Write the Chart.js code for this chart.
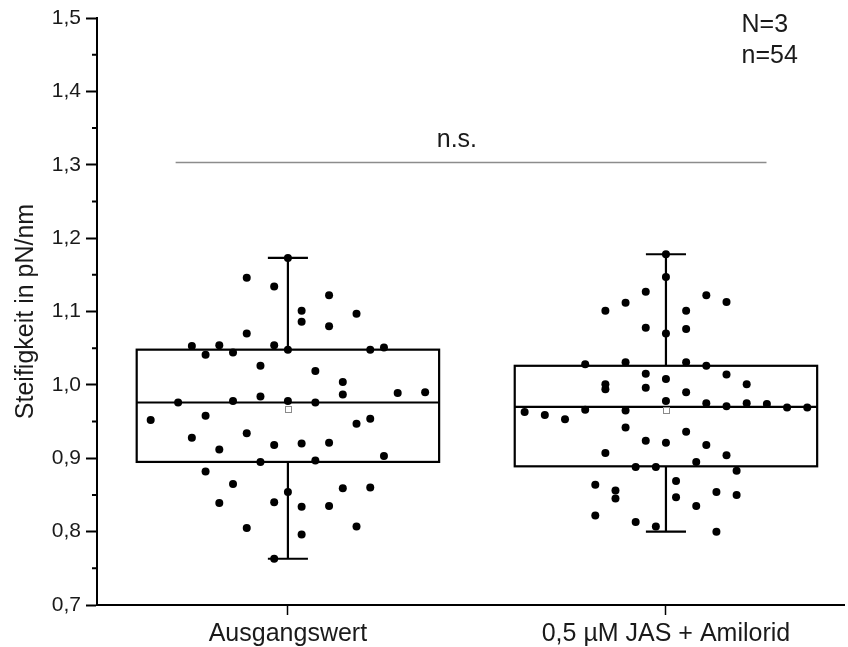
<!DOCTYPE html>
<html lang="de">
<head>
<meta charset="utf-8">
<title>Steifigkeit</title>
<script src="https://cdn.jsdelivr.net/npm/chart.js@4.4.1/dist/chart.umd.min.js"></script>
<style>
  html, body { margin: 0; padding: 0; background: #fff; }
  canvas { display: block; }
</style>
</head>
<body>
<canvas id="grafik" width="848" height="647"></canvas>
<script>
/* ============ Steifigkeit — Boxplot mit Einzelwerten ============ */

const kategorien = ['Ausgangswert', '0,5 µM JAS + Amilorid'];
const yTicks = [0.7, 0.8, 0.9, 1.0, 1.1, 1.2, 1.3, 1.4, 1.5];

// Boxplot-Kennwerte pro Gruppe
const q1 = [0.895, 0.889];
const median = [0.976, 0.970];
const q3 = [1.048, 1.026];
const whiskerUnten = [0.763, 0.800];
const whiskerOben = [1.173, 1.178];
const mittelwert = [0.967, 0.966];

// Einzelwerte in pN/nm, dazu die Spalte im Streudiagramm (versetzt um die Kategorie)
const werteAusgang = [1.173, 1.146, 1.134, 1.122, 1.101, 1.097, 1.086, 1.080, 1.070, 1.053,
  1.054, 1.054, 1.041, 1.044, 1.048, 1.048, 1.051, 1.026, 1.019, 1.004,
  0.987, 0.989, 0.990, 0.984, 0.976, 0.978, 0.978, 0.976, 0.952, 0.958,
  0.947, 0.954, 0.928, 0.934, 0.912, 0.918, 0.920, 0.921, 0.903, 0.895,
  0.897, 0.882, 0.865, 0.854, 0.859, 0.860, 0.839, 0.840, 0.834, 0.835,
  0.805, 0.807, 0.796, 0.763];
const spalteAusgang = [0, -3, -1, 3, 1, 5, 1, 3, -3, -7,
  -5, -1, -6, -4, 0, 6, 7, -2, 2, 4,
  4, 8, 10, -2, -8, -4, 0, 2, -10, -6,
  5, 6, -7, -3, -5, -1, 1, 3, 7, -2,
  2, -6, -4, 0, 4, 6, -5, -1, 1, 3,
  -3, 5, 1, -1];

const werteJas = [1.178, 1.147, 1.127, 1.122, 1.112, 1.113, 1.101, 1.101, 1.078, 1.070,
  1.076, 1.028, 1.031, 1.031, 1.026, 1.015, 1.008, 1.014, 1.001, 0.994,
  0.996, 1.001, 0.990, 0.978, 0.975, 0.971, 0.975, 0.974, 0.969, 0.969,
  0.963, 0.959, 0.953, 0.966, 0.965, 0.942, 0.936, 0.924, 0.921, 0.918,
  0.907, 0.904, 0.895, 0.888, 0.888, 0.883, 0.869, 0.864, 0.856, 0.845,
  0.847, 0.854, 0.850, 0.835, 0.822, 0.813, 0.807, 0.800];
const spalteJas = [0, 0, -1, 2, -2, 3, -3, 1, -1, 0,
  1, -4, -2, 1, 2, -1, 0, 3, -3, -3,
  -1, 4, 1, 0, 2, 3, 4, 5, 6, 7,
  -7, -6, -5, -4, -2, -2, 1, -1, 0, 2,
  -3, 3, 1.5, -1.5, -0.5, 3.5, 0.5, -3.5, -2.5, -2.5,
  0.5, 2.5, 3.5, 1.5, -3.5, -1.5, -0.5, 2.5];
const spaltenBreite = [0.0363, 0.0534];

const signifikanz = { text: 'n.s.', y: 1.303, von: 0.703, bis: 2.266, textX: 1.447 };
const stichprobe = ['N=3', 'n=54'];

const SCHRIFT = '"Liberation Sans", Arial, sans-serif';
const TEXT = '#1a1a1a';
const fmt = v => v.toFixed(1).replace('.', ',');
const punkte = (werte, spalten, i) =>
  werte.map((v, j) => ({ x: i + 1 + spalten[j] * spaltenBreite[i], y: v }));

/* Boxen, Whisker, Mittelwert und Beschriftungen über die Skalen von Chart.js */
const boxPlugin = {
  id: 'boxplot',
  beforeDraw(chart) {
    const ctx = chart.ctx;
    ctx.save();
    ctx.fillStyle = '#fff';
    ctx.fillRect(0, 0, chart.width, chart.height);
    ctx.restore();
  },
  beforeDatasetsDraw(chart) {
    const { ctx, scales: { x, y } } = chart;
    ctx.save();
    ctx.strokeStyle = '#000';
    ctx.lineWidth = 2.2;
    kategorien.forEach((_, i) => {
      const c = i + 1;
      const xl = x.getPixelForValue(c - 0.4);
      const xr = x.getPixelForValue(c + 0.4);
      const xm = x.getPixelForValue(c);
      const cap = x.getPixelForValue(c + 0.053) - xm;
      const yq1 = y.getPixelForValue(q1[i]);
      const yq3 = y.getPixelForValue(q3[i]);
      const ymed = y.getPixelForValue(median[i]);
      const yo = y.getPixelForValue(whiskerOben[i]);
      const yu = y.getPixelForValue(whiskerUnten[i]);
      ctx.strokeRect(xl, yq3, xr - xl, yq1 - yq3);
      ctx.beginPath();
      ctx.moveTo(xl, ymed); ctx.lineTo(xr, ymed);
      ctx.moveTo(xm, yq3); ctx.lineTo(xm, yo);
      ctx.moveTo(xm - cap, yo); ctx.lineTo(xm + cap, yo);
      ctx.moveTo(xm, yq1); ctx.lineTo(xm, yu);
      ctx.moveTo(xm - cap, yu); ctx.lineTo(xm + cap, yu);
      ctx.stroke();
    });
    ctx.restore();
  },
  afterDatasetsDraw(chart) {
    const { ctx, chartArea, scales: { x, y } } = chart;
    ctx.save();
    // Mittelwert als kleines offenes Quadrat
    ctx.strokeStyle = '#8a8a8a';
    ctx.fillStyle = '#fff';
    ctx.lineWidth = 1;
    mittelwert.forEach((m, i) => {
      const px = Math.round(x.getPixelForValue(i + 1)) + 0.5;
      const py = Math.round(y.getPixelForValue(m)) + 0.5;
      ctx.fillRect(px - 3, py - 3, 6, 6);
      ctx.strokeRect(px - 3, py - 3, 6, 6);
    });
    // Signifikanzlinie
    const ys = y.getPixelForValue(signifikanz.y);
    ctx.strokeStyle = '#8c8c8c';
    ctx.lineWidth = 1.5;
    ctx.beginPath();
    ctx.moveTo(x.getPixelForValue(signifikanz.von), ys);
    ctx.lineTo(x.getPixelForValue(signifikanz.bis), ys);
    ctx.stroke();
    ctx.fillStyle = TEXT;
    ctx.font = `25px ${SCHRIFT}`;
    ctx.textAlign = 'center';
    ctx.textBaseline = 'alphabetic';
    ctx.fillText(signifikanz.text, x.getPixelForValue(signifikanz.textX), ys - 16);
    // N und n oben rechts
    ctx.textAlign = 'left';
    ctx.fillText(stichprobe[0], x.getPixelForValue(2.2), y.getPixelForValue(1.481));
    ctx.fillText(stichprobe[1], x.getPixelForValue(2.2), y.getPixelForValue(1.439));
    // Zwischenstriche auf der y-Achse
    ctx.strokeStyle = '#000';
    ctx.lineWidth = 2;
    ctx.beginPath();
    yTicks.slice(1).forEach((t, k) => {
      const py = y.getPixelForValue((t + yTicks[k]) / 2);
      ctx.moveTo(chartArea.left - 5, py);
      ctx.lineTo(chartArea.left, py);
    });
    ctx.stroke();
    ctx.restore();
  }
};

new Chart(document.getElementById('grafik'), {
  type: 'scatter',
  data: {
    datasets: [
      { label: kategorien[0], data: punkte(werteAusgang, spalteAusgang, 0),
        backgroundColor: '#000', borderWidth: 0, pointRadius: 4 },
      { label: kategorien[1], data: punkte(werteJas, spalteJas, 1),
        backgroundColor: '#000', borderWidth: 0, pointRadius: 4 },
    ],
  },
  options: {
    responsive: false,
    animation: false,
    devicePixelRatio: 1,
    layout: { padding: { top: 18, right: 0, left: 0, bottom: 0 } },
    plugins: { legend: { display: false }, tooltip: { enabled: false } },
    scales: {
      x: {
        type: 'linear', min: 0.495, max: 2.471,
        afterBuildTicks: s => { s.ticks = kategorien.map((_, i) => ({ value: i + 1 })); },
        afterFit: s => { s.height = 42; },
        ticks: {
          callback: v => kategorien[Math.round(v) - 1],
          font: { family: SCHRIFT, size: 25 }, color: TEXT,
          padding: 4, maxRotation: 0, autoSkip: false,
        },
        grid: { drawOnChartArea: false, tickLength: 10, tickColor: '#000', tickWidth: 1.5 },
        border: { color: '#000', width: 2 },
      },
      y: {
        min: 0.7, max: 1.5,
        afterBuildTicks: s => { s.ticks = yTicks.map(v => ({ value: v })); },
        afterFit: s => { s.width = 97; },
        ticks: { callback: v => fmt(v), font: { family: SCHRIFT, size: 21 }, color: TEXT, padding: 5 },
        grid: { drawOnChartArea: false, tickLength: 11, tickColor: '#000', tickWidth: 2 },
        border: { color: '#000', width: 2 },
        title: {
          display: true, text: 'Steifigkeit in pN/nm',
          font: { family: SCHRIFT, size: 25 }, color: TEXT, padding: { top: 11, bottom: 0 },
        },
      },
    },
  },
  plugins: [boxPlugin],
});
</script>
</body>
</html>
